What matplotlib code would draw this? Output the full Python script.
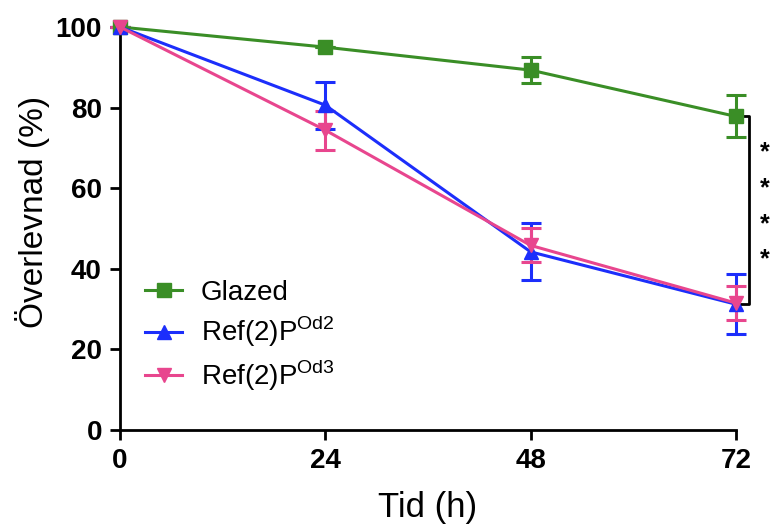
import numpy as np
import matplotlib
matplotlib.use('Agg')
import matplotlib.pyplot as plt
from matplotlib.lines import Line2D

# Data
tid = [0, 24, 48, 72]
glazed_mean = [100, 95.0, 89.3, 77.8]
glazed_err = [0, 0, 3.2, 5.2]
od2_mean = [100, 80.6, 44.2, 31.2]
od2_err = [0, 5.8, 7.1, 7.5]
od3_mean = [100, 74.4, 45.8, 31.5]
od3_err = [0, 4.8, 4.2, 4.2]

labels = ['Glazed', r'Ref(2)P$^{\mathrm{Od2}}$', r'Ref(2)P$^{\mathrm{Od3}}$']
colors = ['#3A8E26', '#1C2EFB', '#E8468E']
markers = ['s', '^', 'v']

fam = 'Liberation Sans'
plt.rcParams['font.family'] = [fam, 'DejaVu Sans']
plt.rcParams['mathtext.fontset'] = 'custom'
plt.rcParams['mathtext.rm'] = fam

fig = plt.figure(figsize=(7.71, 5.26), dpi=100)
ax = fig.add_axes([0.1556, 0.1825, 0.7990, 0.7662])

series = [(glazed_mean, glazed_err), (od2_mean, od2_err), (od3_mean, od3_err)]
handles = []
for (m, e), lab, c, mk in zip(series, labels, colors, markers):
    ax.errorbar(tid, m, yerr=e, color=c, marker=mk, ms=10, lw=2.2,
                capsize=7, capthick=2.2, elinewidth=2.2,
                clip_on=False, zorder=3)
    handles.append(Line2D([], [], color=c, marker=mk, ms=10, lw=2.2, label=lab))

ax.set_xlim(0, 72)
ax.set_ylim(0, 100)
ax.set_xticks(tid)
ax.set_yticks([0, 20, 40, 60, 80, 100])
for s in ['top', 'right']:
    ax.spines[s].set_visible(False)
for s in ['left', 'bottom']:
    ax.spines[s].set_linewidth(2)
ax.tick_params(width=2, length=7, labelsize=20, pad=6)
for t in ax.get_xticklabels() + ax.get_yticklabels():
    t.set_fontweight('bold')

ax.set_xlabel('Tid (h)', fontsize=25)
ax.xaxis.set_label_coords(0.5, -0.152)
ax.set_ylabel('Överlevnad (%)', fontsize=24)
ax.yaxis.set_label_coords(-0.114, 0.54)

ax.legend(handles=handles, loc='upper left', bbox_to_anchor=(0.0, 0.435),
          frameon=False, fontsize=20, handlelength=1.35, labelspacing=0.3,
          handletextpad=0.65)

# significance bracket at 72 h
ax.plot([72.2, 73.5, 73.5, 72.2],
        [glazed_mean[3], glazed_mean[3], od2_mean[3], od2_mean[3]],
        color='black', lw=2, clip_on=False)
for yv in [69.0, 60.0, 51.1, 42.4]:
    ax.text(75.4, yv, '*', fontsize=18, fontweight='bold', ha='center',
            va='center', clip_on=False)

fig.savefig('out.png', dpi=100)
